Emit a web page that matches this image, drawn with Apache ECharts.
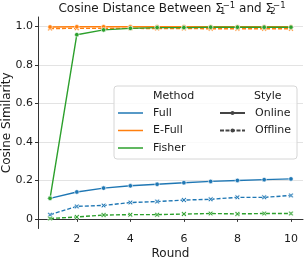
<!DOCTYPE html>
<html><head><meta charset="utf-8">
<script src="https://cdn.jsdelivr.net/npm/echarts@6/dist/echarts.min.js"></script>
<style>html,body{margin:0;padding:0;background:#fff}#c{width:305px;height:258px}</style>
</head><body><div id="c"></div>
<script>
const rounds = [1,2,3,4,5,6,7,8,9,10];
const fullOnline    = [0.107,0.140,0.160,0.172,0.180,0.188,0.195,0.200,0.204,0.208];
const fullOffline   = [0.022,0.065,0.070,0.085,0.090,0.098,0.102,0.112,0.112,0.122];
const efullOnline   = [0.998,0.999,0.999,0.999,0.999,0.999,0.999,0.999,0.999,0.999];
const efullOffline  = [0.990,0.991,0.991,0.991,0.990,0.990,0.989,0.989,0.989,0.989];
const fisherOnline  = [0.107,0.958,0.983,0.991,0.995,0.995,0.997,0.997,0.997,0.997];
const fisherOffline = [0.002,0.010,0.020,0.022,0.022,0.025,0.028,0.026,0.028,0.028];
const xTicks = [2,4,6,8,10];
const yTicks = [0,0.2,0.4,0.6,0.8,1.0];
const methods = ['Full','E-Full','Fisher'];
const styles = ['Online','Offline'];
const colors = {'Full':'#1f77b4','E-Full':'#ff7f0e','Fisher':'#2ca02c'};
const font = 'DejaVu Sans';
const xMark = 'path://M0,2 L2,0 L5,3 L8,0 L10,2 L7,5 L10,8 L8,10 L5,7 L2,10 L0,8 L3,5 Z';

function pairs(v){ return rounds.map((r,i)=>[r,v[i]]); }
function mk(name, method, vals, offline){
  return {
    type:'line', name:name, data:pairs(vals), z:offline?2:3,
    symbol: offline ? xMark : 'circle', symbolSize: offline?5:4.5, showSymbol:true,
    lineStyle:{color:colors[method], width:1.4, type: offline?[4,2]:'solid'},
    itemStyle:{color:colors[method], borderColor:'#fff', borderWidth:0.6},
    emphasis:{disabled:true}, animation:false
  };
}
const series = [
  mk('s1','Full',fullOnline,false),
  mk('s2','Full',fullOffline,true),
  mk('s3','E-Full',efullOnline,false),
  mk('s4','E-Full',efullOffline,true),
  mk('s5','Fisher',fisherOnline,false),
  mk('s6','Fisher',fisherOffline,true)
];
methods.forEach(m=>series.push({type:'line',name:m,data:[],symbol:'none',
  lineStyle:{color:colors[m],width:1.4},itemStyle:{color:colors[m]}}));
styles.forEach((s,i)=>series.push({type:'line',name:s,data:[],symbol:'circle',symbolSize:4,
  lineStyle:{color:'#444',width:1.3,type:i?[4,1.5]:'solid'},itemStyle:{color:'#444'}}));

const chart = echarts.init(document.getElementById('c'),null,{renderer:'canvas'});
chart.setOption({
  animation:false,
  textStyle:{fontFamily:font},
  title:{
    text:'Cosine Distance Between Σ{sb|1}{sp|−1} and Σ{sb|2}{sp|−1}',
    left:172, top:1, textAlign:'center', padding:0,
    textStyle:{fontFamily:font,fontSize:12,fontWeight:'normal',color:'#1a1a1a',
      rich:{
        sb:{fontFamily:font,fontSize:8.5,color:'#1a1a1a',width:0,padding:[6,0,0,0]},
        sp:{fontFamily:font,fontSize:8.5,color:'#1a1a1a',padding:[0,0,6,0]}
      }}
  },
  grid:{left:38,right:2,top:17,bottom:29.5,containLabel:false,outerBoundsMode:'none'},
  xAxis:{type:'value',min:0.55,max:10.45,name:'Round',nameLocation:'middle',nameGap:19.5,nameMoveOverlap:false,
    nameTextStyle:{fontFamily:font,fontSize:12,color:'#1a1a1a'},
    axisLine:{lineStyle:{color:'#333',width:1}},
    axisTick:{show:true,length:3,customValues:xTicks,lineStyle:{color:'#333'}},
    axisLabel:{customValues:xTicks,fontFamily:font,fontSize:11,color:'#1a1a1a',margin:5},
    splitLine:{show:false}},
  yAxis:{type:'value',min:-0.05,max:1.05,name:'Cosine Similarity',nameLocation:'middle',nameGap:25,nameMoveOverlap:false,
    nameTextStyle:{fontFamily:font,fontSize:12,color:'#1a1a1a'},
    axisLine:{show:true,lineStyle:{color:'#333',width:1}},
    axisTick:{show:true,length:3,customValues:yTicks,lineStyle:{color:'#333'}},
    axisLabel:{customValues:yTicks,fontFamily:font,fontSize:11,color:'#1a1a1a',margin:5,
      formatter:v=>v===0?'0':v.toFixed(1)},
    splitLine:{show:true,lineStyle:{color:'#e3e3e3',width:1}}},
  legend:[
    {data:methods.map(m=>({name:m,icon:'rect'})),orient:'vertical',left:118,top:107.5,padding:0,
      itemWidth:25,itemHeight:1.5,itemGap:6.5,
      textStyle:{fontFamily:font,fontSize:11,color:'#1a1a1a',padding:[0,0,0,5]},selectedMode:false,z:6},
    {data:styles,orient:'vertical',left:219,top:107.5,padding:0,itemWidth:25,itemHeight:5,itemGap:6.5,
      textStyle:{fontFamily:font,fontSize:11,color:'#1a1a1a',padding:[0,0,0,5]},selectedMode:false,z:6}
  ],
  graphic:[
    {type:'rect',shape:{x:114,y:86,width:183,height:73,r:3},
      style:{fill:'rgba(255,255,255,0.8)',stroke:'#d6d6d6',lineWidth:1},z:5},
    {type:'text',x:153,y:96,style:{text:'Method',fontFamily:font,fontSize:11,fill:'#1a1a1a',verticalAlign:'middle'},z:7},
    {type:'text',x:254,y:96,style:{text:'Style',fontFamily:font,fontSize:11,fill:'#1a1a1a',verticalAlign:'middle'},z:7}
  ],
  series:series
});
</script></body></html>
